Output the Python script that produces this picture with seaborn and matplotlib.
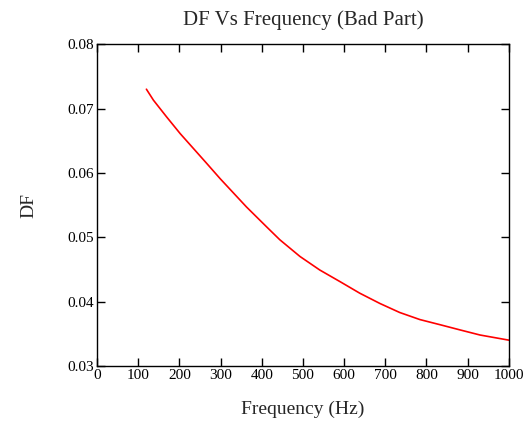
import matplotlib
matplotlib.use('Agg')

import matplotlib.pyplot as plt
import seaborn as sns
import pandas as pd
import numpy as np

# values
freq = [120, 137, 169, 202, 234, 266, 299, 331, 363, 412, 444, 493, 541,
        590, 638, 687, 735, 784, 833, 881, 930, 1000]
df_vals = [0.0730, 0.0713, 0.0687, 0.0661, 0.0638, 0.0615, 0.0591, 0.0569,
           0.0547, 0.0516, 0.0496, 0.0470, 0.0449, 0.0431, 0.0413, 0.0397,
           0.0383, 0.0372, 0.0364, 0.0356, 0.0348, 0.0340]
x_ticks = [0, 100, 200, 300, 400, 500, 600, 700, 800, 900, 1000]
y_ticks = [0.03, 0.04, 0.05, 0.06, 0.07, 0.08]


def main():
    sns.set_style('ticks')
    plt.rcParams['font.family'] = ['Liberation Serif', 'DejaVu Serif']

    data = pd.DataFrame({'Frequency': freq, 'DF': df_vals})

    fig = plt.figure(figsize=(5.3, 4.33), dpi=100)
    ax = fig.add_axes([0.183, 0.155, 0.777, 0.743])
    sns.lineplot(data=data, x='Frequency', y='DF', color='red', linewidth=1.2, ax=ax)

    ax.set_xlim(0, 1000)
    ax.set_ylim(0.03, 0.08)
    ax.set_xticks(x_ticks)
    ax.set_yticks(y_ticks)
    ax.set_xticklabels([str(t) for t in x_ticks])
    ax.set_yticklabels(['%.2f' % t for t in y_ticks])
    ax.tick_params(direction='in', length=6, width=1, top=True, right=True,
                   labelsize=11, pad=2, colors='black')
    for s in ax.spines.values():
        s.set_visible(True)
        s.set_linewidth(1)
        s.set_color('black')

    ax.set_title('DF Vs Frequency (Bad Part)', fontsize=15, pad=14)
    ax.set_xlabel('Frequency (Hz)', fontsize=14, labelpad=14)
    ax.set_ylabel('DF', fontsize=14, labelpad=22)

    fig.savefig('out.png', dpi=100)


if __name__ == "__main__":
    main()
